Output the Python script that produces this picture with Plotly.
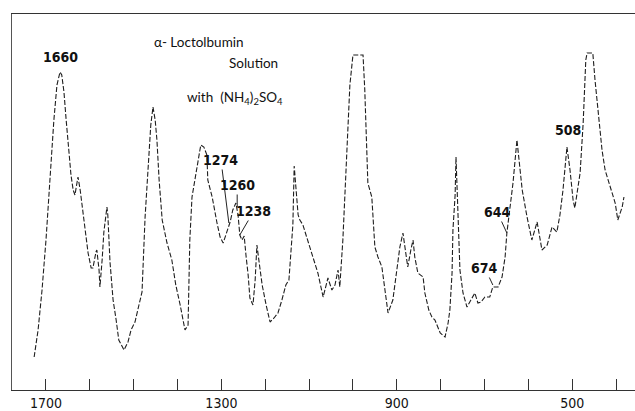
import plotly.graph_objects as go

# Raman spectrum of alpha-lactalbumin solution with (NH4)2SO4
wavenumber = [1727, 1718, 1709, 1700, 1691, 1682, 1675, 1668, 1664, 1659, 1654, 1650, 1643, 1638,
              1634, 1629, 1627, 1622, 1616, 1609, 1604, 1597, 1593, 1586, 1584, 1579, 1577, 1572,
              1568, 1561, 1559, 1554, 1547, 1540, 1534, 1522, 1513, 1506, 1497, 1488, 1481, 1474,
              1470, 1465, 1461, 1456, 1451, 1447, 1442, 1435, 1424, 1413, 1404, 1394, 1383, 1376,
              1372, 1367, 1360, 1353, 1347, 1340, 1333, 1331, 1321, 1310, 1303, 1296, 1290, 1280,
              1274, 1267, 1262, 1258, 1253, 1248, 1244, 1239, 1235, 1228, 1223, 1219, 1214, 1207,
              1198, 1189, 1180, 1171, 1162, 1153, 1146, 1141, 1137, 1134, 1130, 1125, 1121, 1114,
              1107, 1098, 1089, 1080, 1068, 1057, 1048, 1041, 1034, 1030, 1023, 1016, 1011, 1007,
              1000, 977, 973, 970, 968, 966, 957, 950, 943, 934, 927, 920, 909, 900,
              893, 886, 881, 875, 868, 863, 859, 852, 840, 836, 827, 820, 813, 801,
              790, 783, 779, 774, 772, 767, 765, 763, 760, 756, 749, 740, 731, 722,
              715, 708, 699, 688, 681, 669, 660, 653, 649, 642, 635, 626, 619, 614,
              603, 592, 580, 569, 557, 546, 535, 528, 521, 512, 505, 498, 494, 487,
              482, 475, 469, 466, 453, 448, 441, 432, 425, 414, 402, 396, 386, 382]
intensity = [33, 60, 100, 150, 210, 270, 305, 318, 315, 298, 270, 247, 215, 200,
             195, 208, 213, 200, 177, 150, 137, 122, 122, 138, 140, 120, 103, 130,
             158, 183, 175, 128, 90, 70, 50, 40, 48, 60, 68, 85, 98, 173,
             203, 230, 265, 283, 270, 250, 210, 170, 147, 130, 105, 85, 60, 65,
             150, 193, 212, 230, 245, 243, 235, 210, 193, 167, 153, 147, 155, 168,
             180, 187, 175, 155, 150, 154, 135, 115, 92, 85, 110, 145, 128, 105,
             85, 68, 72, 77, 90, 105, 110, 140, 165, 224, 205, 175, 170, 165,
             155, 142, 128, 117, 93, 112, 100, 105, 120, 103, 150, 220, 280, 305,
             335, 335, 300, 260, 233, 207, 193, 143, 133, 123, 100, 77, 90, 117,
             143, 157, 140, 123, 140, 150, 133, 117, 113, 97, 80, 73, 70, 57,
             53, 67, 80, 117, 160, 195, 233, 210, 170, 120, 97, 83, 90, 97,
             87, 88, 93, 93, 103, 103, 113, 133, 157, 183, 207, 250, 223, 200,
             173, 150, 168, 140, 145, 163, 158, 175, 200, 243, 220, 190, 182, 200,
             217, 267, 330, 337, 337, 310, 277, 240, 220, 203, 187, 170, 183, 193]

tick_values = [1700, 1600, 1500, 1400, 1300, 1200, 1100, 1000, 900, 800, 700, 600, 500, 400]
tick_labels = ["1700", "", "", "", "1300", "", "", "", "900", "", "", "", "500", ""]

# peak labels: text, label position (wn, intensity), target on curve (wn, intensity) or None
peak_text = ["1660", "508", "1274", "1260", "1238", "644", "674"]
peak_label_wn = [1668, 510, 1301, 1264, 1226, 671, 699]
peak_label_int = [333, 260, 230, 205, 179, 178, 122]
peak_target_wn = [None, None, 1283, 1264, 1258, 649, 681]
peak_target_int = [None, None, 167, 183, 155, 157, 105]

fig = go.Figure()
fig.add_trace(go.Scatter(
    x=wavenumber, y=intensity, mode="lines",
    line=dict(color="#1e1e1e", width=1.1, dash="5px,2px"),
    hoverinfo="skip", showlegend=False))

narrow = "DejaVu Sans Condensed, DejaVu Sans, sans-serif"
label_font = dict(family=narrow, size=14, color="#111")
for t, lx, ly, tx, ty in zip(peak_text, peak_label_wn, peak_label_int, peak_target_wn, peak_target_int):
    if tx is None:
        fig.add_annotation(x=lx, y=ly, text="<b>%s</b>" % t, showarrow=False, font=label_font)
    else:
        fig.add_annotation(x=tx, y=ty, ax=lx, ay=ly, axref="x", ayref="y",
                           text="<b>%s</b>" % t, showarrow=True, arrowhead=0, arrowwidth=1,
                           arrowcolor="#222", standoff=0, font=label_font)

title_font = dict(family="Lato, Open Sans, sans-serif", size=13.5, color="#111")
fig.add_annotation(x=1458, y=348, text="\u03b1- Loctolbumin", showarrow=False,
                   xanchor="left", font=title_font)
fig.add_annotation(x=1287, y=327, text="Solution", showarrow=False,
                   xanchor="left", font=title_font)
fig.add_annotation(x=1383, y=292, text="with  (NH<sub>4</sub>)<sub>2</sub>SO<sub>4</sub>",
                   showarrow=False, xanchor="left", font=title_font)

fig.update_layout(
    width=635, height=411,
    margin=dict(l=12, r=0, t=14, b=21),
    paper_bgcolor="white", plot_bgcolor="white",
    xaxis=dict(range=[1777.5, 356.8], tickmode="array", tickvals=tick_values, ticktext=tick_labels,
               ticks="inside", ticklen=11, tickwidth=1, tickcolor="#333",
               showline=True, linecolor="#333", linewidth=1, mirror=True,
               showgrid=False, zeroline=False,
               tickfont=dict(family=narrow, size=14, color="#111")),
    yaxis=dict(range=[0, 376], showticklabels=False, ticks="", showline=True,
               linecolor="#555", linewidth=1, showgrid=False, zeroline=False),
)

fig.write_html("out.html", config={"displayModeBar": False},
               post_script="document.body.style.margin='0';document.body.style.overflow='hidden';")
